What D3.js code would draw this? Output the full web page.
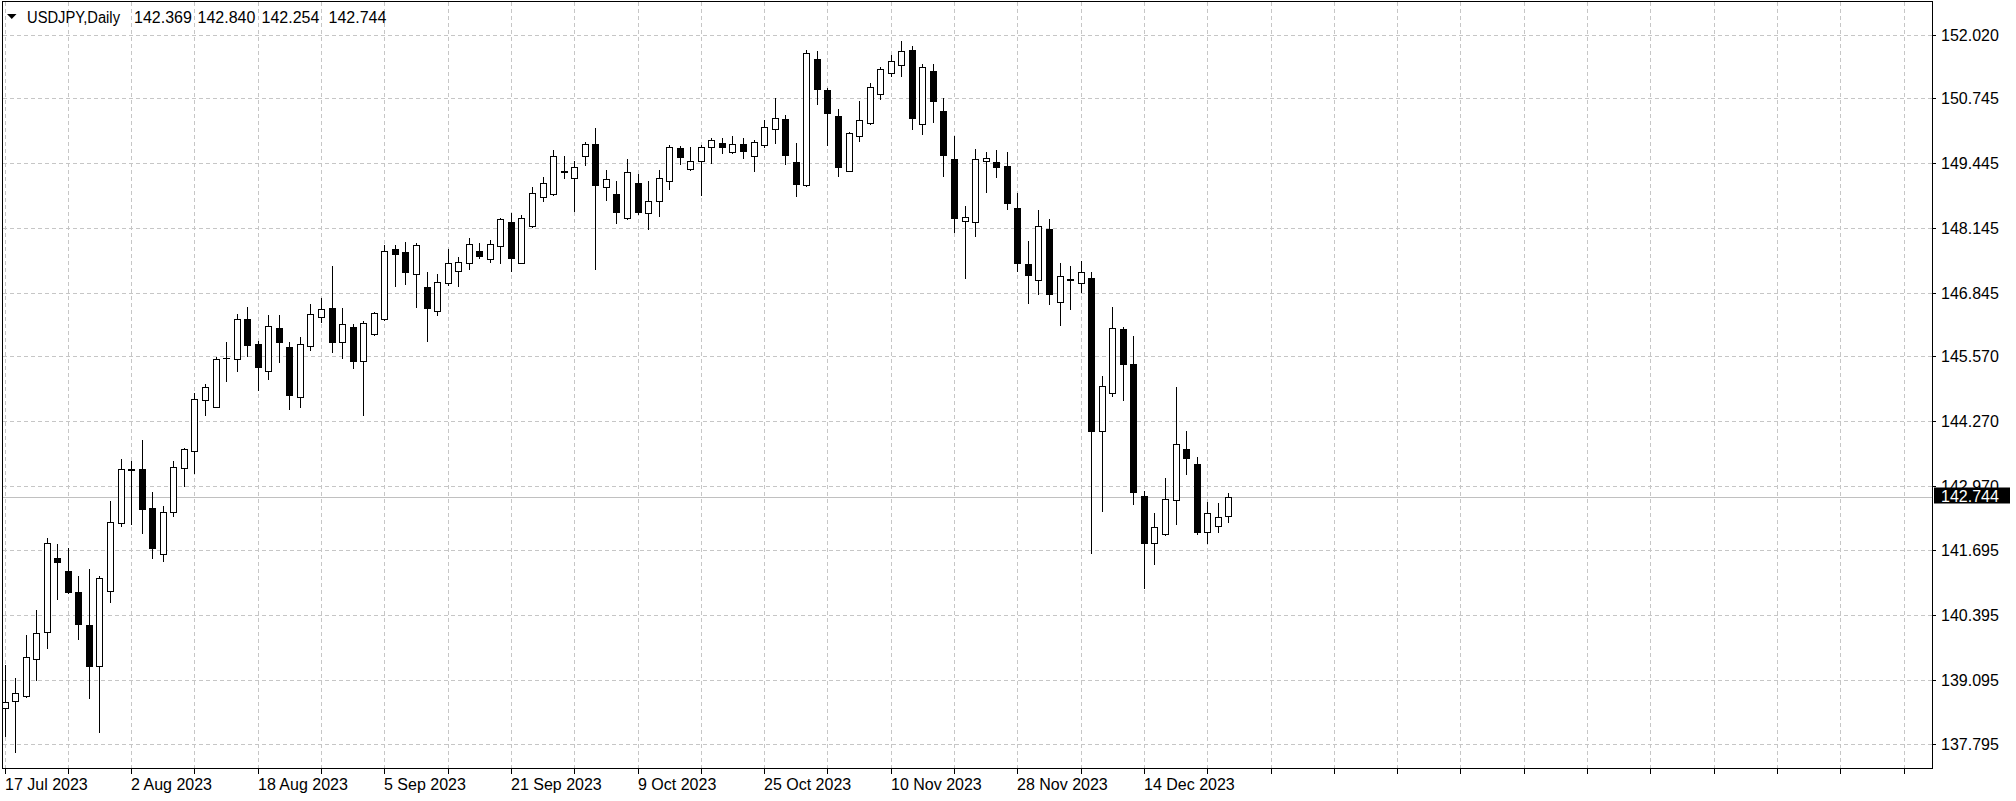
<!DOCTYPE html>
<html>
<head>
<meta charset="utf-8">
<script src="https://cdn.jsdelivr.net/npm/d3@7/dist/d3.min.js"></script>
<style>
  html, body { margin: 0; padding: 0; background: #ffffff; }
  svg { display: block; }
  text { font-family: "Liberation Sans", Arial, sans-serif; font-size: 16px; fill: #000; }
</style>
</head>
<body>
<svg id="chart" width="2016" height="801"></svg>
<script>
// ---------------- data ----------------
const symbolTitle = "USDJPY,Daily";
const openV = [138.518,138.672,138.765,139.500,140.055,141.538,141.277,140.857,140.188,139.367,
  140.870,142.240,143.295,143.308,142.527,141.612,142.460,143.329,143.669,144.698,
  144.564,145.530,145.520,146.321,145.820,145.286,146.134,145.767,144.751,145.787,
  146.368,146.535,145.860,146.154,145.473,146.021,146.322,147.718,147.658,147.217,
  146.956,146.475,147.037,147.290,147.451,147.691,147.518,147.791,148.272,147.451,
  148.186,148.774,148.820,149.275,149.141,149.589,149.829,148.974,148.827,148.339,
  149.041,148.453,148.687,149.088,149.756,149.321,149.488,149.776,149.856,149.669,
  149.829,149.589,149.809,150.123,150.330,149.462,149.001,151.526,150.911,150.390,
  149.295,149.989,150.243,150.831,151.245,151.413,151.713,150.223,151.292,150.497,
  149.522,148.292,148.259,149.488,149.462,149.388,148.540,147.424,147.103,148.119,
  146.656,147.123,147.050,147.137,144.083,144.845,146.115,145.420,142.774,141.825,
  142.012,142.694,143.709,143.415,142.059,142.173,142.369];
const highV = [139.386,139.119,139.988,140.489,141.939,141.805,141.725,141.171,141.304,141.171,
  142.680,143.516,143.475,143.896,142.861,142.574,143.475,143.729,144.832,145.010,
  145.553,145.854,146.415,146.555,145.880,146.402,146.402,145.867,145.954,146.615,
  146.736,147.384,146.535,146.221,146.288,146.468,147.805,147.805,147.858,147.852,
  147.270,147.224,147.725,147.558,147.939,147.852,147.905,148.353,148.439,148.406,
  148.961,149.174,149.709,149.595,149.488,149.862,150.156,149.308,149.094,149.522,
  149.228,149.094,149.308,149.809,149.796,149.762,149.809,149.943,149.956,149.989,
  149.956,149.909,150.310,150.758,150.410,149.843,151.713,151.693,150.945,150.531,
  150.076,150.691,151.058,151.379,151.613,151.894,151.793,151.426,151.426,150.758,
  149.989,148.593,149.729,149.675,149.709,149.675,148.840,147.885,148.506,148.326,
  147.437,147.384,147.484,147.270,145.186,146.555,146.155,145.981,142.881,142.440,
  143.128,144.952,144.083,143.549,142.660,142.627,142.840];
const lowV = [137.963,137.649,138.739,139.086,139.734,140.710,140.823,139.901,138.732,138.050,
  140.656,142.179,142.206,142.026,141.525,141.471,142.373,142.974,143.242,144.405,
  144.551,145.085,145.279,145.586,144.898,145.119,145.466,144.511,144.564,145.700,
  146.255,145.653,145.546,145.333,144.397,146.001,146.302,146.990,147.023,146.569,
  145.888,146.402,147.003,146.990,147.317,147.538,147.471,147.437,147.290,147.437,
  148.172,148.693,148.807,149.141,148.493,149.408,147.317,148.707,148.239,148.320,
  148.426,148.125,148.386,148.921,149.422,149.310,148.807,149.442,149.642,149.642,
  149.542,149.295,149.762,149.843,149.422,148.794,148.987,150.631,149.809,149.188,
  149.280,149.889,150.230,150.731,151.192,151.199,150.130,150.030,150.263,149.188,
  148.072,147.137,147.992,148.860,149.174,148.526,147.290,146.649,146.816,146.622,
  146.201,146.515,146.856,141.625,142.480,144.778,144.698,142.614,140.923,141.404,
  142.000,142.213,143.215,142.012,141.839,142.059,142.254];
const closeV = [138.652,138.819,139.554,140.035,141.825,141.444,140.843,140.209,139.367,141.137,
  142.246,143.308,143.308,142.507,141.738,142.460,143.362,143.709,144.711,144.950,
  145.520,145.545,146.315,145.807,145.366,146.188,145.867,144.798,145.814,146.422,
  146.522,145.860,146.214,145.486,146.234,146.448,147.691,147.625,147.257,147.798,
  146.549,147.057,147.437,147.458,147.825,147.584,147.825,148.326,147.551,148.353,
  148.854,149.041,149.595,149.281,149.361,149.829,149.007,149.121,148.473,149.275,
  148.473,148.693,149.141,149.776,149.562,149.488,149.776,149.909,149.776,149.822,
  149.696,149.876,150.163,150.357,149.609,149.027,151.660,150.931,150.457,149.375,
  150.043,150.310,150.965,151.332,151.493,151.700,150.344,151.366,150.691,149.609,
  148.339,148.373,149.522,149.542,149.375,148.653,147.451,147.203,148.192,146.816,
  147.190,147.110,147.270,144.083,144.979,146.135,145.413,142.847,141.825,142.146,
  142.707,143.809,143.529,142.059,142.440,142.360,142.744];
const priceTicks = [152.020,150.745,149.445,148.145,146.845,145.570,144.270,142.970,141.695,140.395,139.095,137.795];
const dateLabels = ["17 Jul 2023","2 Aug 2023","18 Aug 2023","5 Sep 2023","21 Sep 2023","9 Oct 2023","25 Oct 2023","10 Nov 2023","28 Nov 2023","14 Dec 2023"];
const dateBars = [0,12,24,36,48,60,72,84,96,108];

// ---------------- layout ----------------
const L = 2.5, T = 1.5, R = 1932.5, B = 768.5;
const svg = d3.select("#chart");
const y = d3.scaleLinear().domain([137.795, 152.020]).range([744.4, 34.7]);
const x = d3.scaleLinear().domain([0, 1]).range([4.5, 15.05]);
const fmt = d3.format(".3f");

svg.append("defs").append("clipPath").attr("id", "plot")
  .append("rect").attr("x", L + 0.5).attr("y", T + 0.5).attr("width", R - L - 1).attr("height", B - T - 1);

const gridColor = "#c6c6c6";
const grid = svg.append("g").attr("clip-path", "url(#plot)").attr("shape-rendering", "crispEdges");
// vertical grid every 6 bars
const maxBar = Math.floor(x.invert(R));
const vBars = d3.range(0, maxBar + 1, 6);
grid.selectAll("line.v").data(vBars).enter().append("line")
  .attr("x1", d => Math.round(x(d)) + 0.5).attr("x2", d => Math.round(x(d)) + 0.5)
  .attr("y1", T).attr("y2", B)
  .attr("stroke", gridColor).attr("stroke-dasharray", "4,3");
grid.selectAll("line.h").data(priceTicks).enter().append("line")
  .attr("x1", L).attr("x2", R)
  .attr("y1", d => Math.round(y(d)) + 0.5).attr("y2", d => Math.round(y(d)) + 0.5)
  .attr("stroke", gridColor).attr("stroke-dasharray", "4,3");

// current price line
const last = closeV[closeV.length - 1];
const yLast = Math.round(y(last)) + 0.5;
grid.append("line").attr("x1", L).attr("x2", R).attr("y1", yLast).attr("y2", yLast)
  .attr("stroke", "#c0c0c0");

// candles
const bars = d3.range(openV.length).map(i => ({i, o: openV[i], h: highV[i], l: lowV[i], c: closeV[i]}));
const cg = svg.append("g").attr("clip-path", "url(#plot)").attr("shape-rendering", "crispEdges");
const cand = cg.selectAll("g.c").data(bars).enter().append("g");
cand.append("line")
  .attr("x1", d => Math.round(x(d.i)) + 0.5).attr("x2", d => Math.round(x(d.i)) + 0.5)
  .attr("y1", d => Math.round(y(d.h))).attr("y2", d => Math.round(y(d.l)) + 1)
  .attr("stroke", "#000").attr("stroke-width", 1);
cand.append("rect")
  .attr("x", d => Math.round(x(d.i)) - 2.5)
  .attr("width", 6)
  .attr("y", d => Math.round(y(Math.max(d.o, d.c))) + 0.5)
  .attr("height", d => Math.max(0.01, Math.round(y(Math.min(d.o, d.c))) - Math.round(y(Math.max(d.o, d.c)))))
  .attr("fill", d => d.c >= d.o ? "#ffffff" : "#000000")
  .attr("stroke", "#000").attr("stroke-width", 1);

// frame
svg.append("rect").attr("x", L).attr("y", T).attr("width", R - L).attr("height", B - T)
  .attr("fill", "none").attr("stroke", "#000").attr("shape-rendering", "crispEdges");

// price axis ticks + labels
svg.append("g").attr("shape-rendering", "crispEdges").selectAll("line").data(priceTicks).enter().append("line")
  .attr("x1", R).attr("x2", R + 3)
  .attr("y1", d => Math.round(y(d)) + 0.5).attr("y2", d => Math.round(y(d)) + 0.5)
  .attr("stroke", "#000");
svg.selectAll("text.p").data(priceTicks).enter().append("text")
  .attr("x", 1941).attr("y", d => Math.round(y(d)) + 6)
  .text(d => fmt(d));

// current price box
svg.append("rect").attr("x", 1934).attr("y", yLast - 10).attr("width", 76).attr("height", 16)
  .attr("fill", "#000");
svg.append("text").attr("x", 1941).attr("y", yLast + 4).style("fill", "#fff").text(fmt(last));

// date axis
const ax = svg.append("g").attr("shape-rendering", "crispEdges");
ax.selectAll("line").data(vBars).enter().append("line")
  .attr("x1", d => Math.round(x(d)) + 0.5).attr("x2", d => Math.round(x(d)) + 0.5)
  .attr("y1", B).attr("y2", B + 5).attr("stroke", "#000");
svg.selectAll("text.d").data(dateLabels).enter().append("text")
  .attr("x", (d, k) => Math.round(x(dateBars[k])))
  .attr("y", 790).text(d => d);

// header
svg.append("path").attr("d", "M7,14 L16.5,14 L11.75,19 Z").attr("fill", "#000");
svg.append("text").attr("x", 27).attr("y", 23)
  .attr("textLength", 93).attr("lengthAdjust", "spacingAndGlyphs").text(symbolTitle);
const hdrVals = [openV[openV.length-1], highV[highV.length-1], lowV[lowV.length-1], closeV[closeV.length-1]];
const hdrX = [134, 197.5, 261.5, 328.5];
svg.selectAll("text.hv").data(hdrVals).enter().append("text")
  .attr("x", (d, k) => hdrX[k]).attr("y", 23).text(d => fmt(d));
</script>
</body>
</html>
